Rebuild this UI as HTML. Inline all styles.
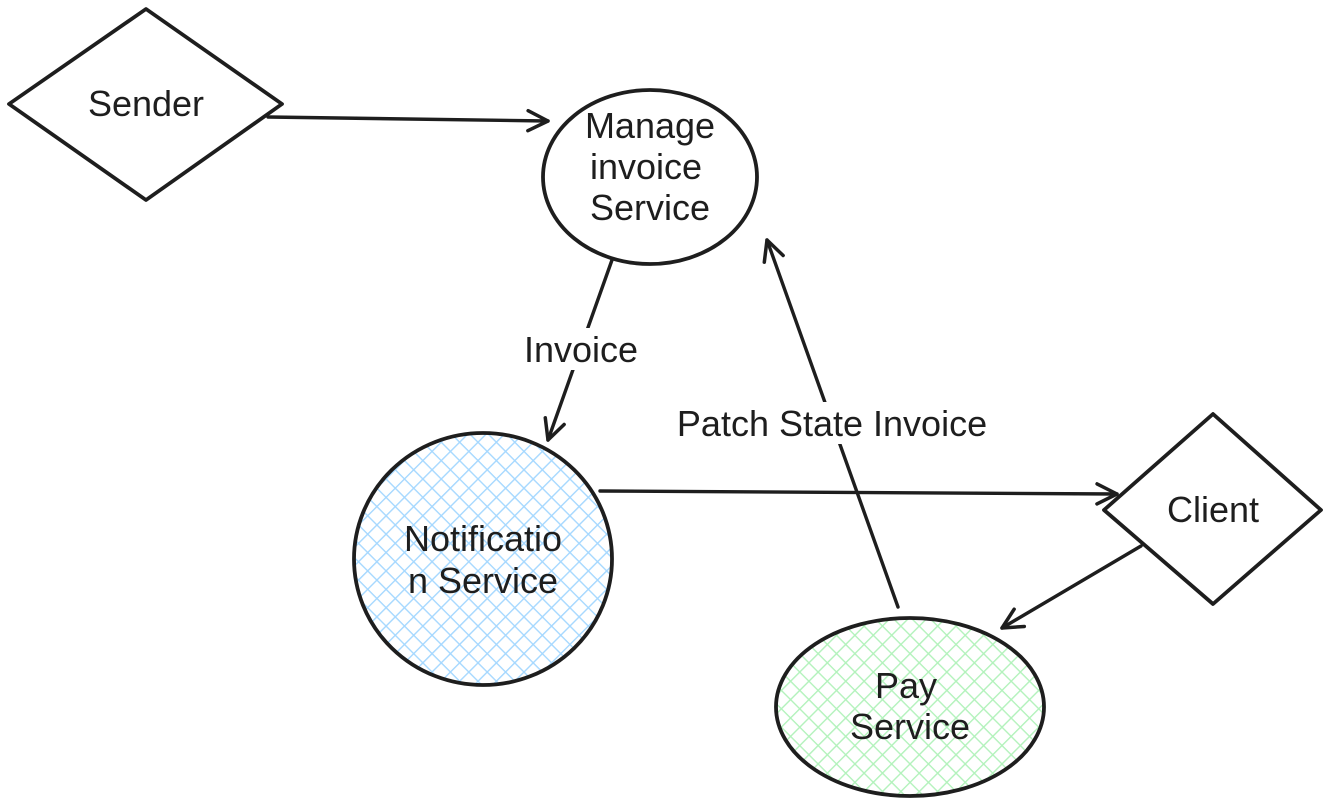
<!DOCTYPE html>
<html><head><style>body{margin:0;background:#fff}svg{display:block}text{font-family:"Liberation Sans",sans-serif;font-size:36px;fill:#1e1e1e;text-anchor:middle}</style></head>
<body>
<svg width="1329" height="805" viewBox="0 0 1329 805">
<defs>
<pattern id="hb" width="13" height="13" patternUnits="userSpaceOnUse" patternTransform="rotate(45)">
<rect width="13" height="13" fill="#fff"/><path d="M0 0V13M0 0H13" stroke="#a5d8ff" stroke-width="2.8"/></pattern>
<pattern id="hg" width="13" height="13" patternUnits="userSpaceOnUse" patternTransform="rotate(45)">
<rect width="13" height="13" fill="#fff"/><path d="M0 0V13M0 0H13" stroke="#b2f2bb" stroke-width="2.8"/></pattern>
<marker id="a" markerWidth="30" markerHeight="30" refX="22" refY="12" orient="auto" markerUnits="userSpaceOnUse">
<path d="M2 2L22 12L2 22" fill="none" stroke="#1e1e1e" stroke-width="3.5" stroke-linecap="round" stroke-linejoin="round"/></marker>
</defs>
<g stroke="#1e1e1e" stroke-width="3.8" fill="none" stroke-linejoin="round">
<path d="M9 104L146 9L282 104L146 200Z" fill="#fff"/>
<ellipse cx="650" cy="177" rx="107" ry="87" fill="#fff"/>
<ellipse cx="483" cy="559" rx="129" ry="126" fill="url(#hb)"/>
<path d="M1104 510L1213 414L1321 510L1213 604Z" fill="#fff"/>
<ellipse cx="910" cy="707" rx="134" ry="89" fill="url(#hg)"/>
<g stroke-width="3.4" stroke-linecap="round">
<line x1="268" y1="117" x2="548" y2="121" marker-end="url(#a)"/>
<line x1="612" y1="260" x2="548" y2="440" marker-end="url(#a)"/>
<line x1="898" y1="607" x2="767" y2="240" marker-end="url(#a)"/>
<line x1="600" y1="491" x2="1117" y2="494" marker-end="url(#a)"/>
<line x1="1141" y1="546" x2="1002" y2="628" marker-end="url(#a)"/>
</g></g>
<rect x="520" y="328" width="122" height="42" fill="#fff"/>
<rect x="676" y="402" width="314" height="42" fill="#fff"/>
<text x="146" y="116">Sender</text>
<text x="650" y="138">Manage</text>
<text x="646" y="179">invoice</text>
<text x="650" y="220">Service</text>
<text x="581" y="362">Invoice</text>
<text x="832" y="436">Patch State Invoice</text>
<text x="483" y="551">Notificatio</text>
<text x="483" y="593">n Service</text>
<text x="1213" y="522">Client</text>
<text x="906" y="698">Pay</text>
<text x="910" y="739">Service</text>
</svg>
</body></html>
